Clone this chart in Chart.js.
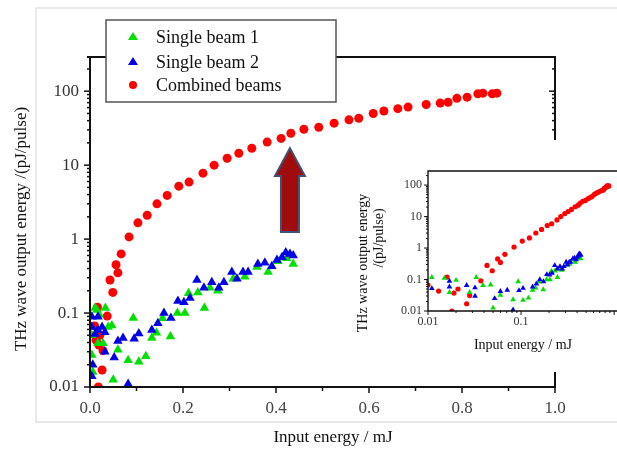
<!DOCTYPE html>
<html>
<head>
<meta charset="utf-8">
<script src="https://cdn.jsdelivr.net/npm/chart.js@4.4.0/dist/chart.umd.min.js"></script>
<style>
  html, body { margin: 0; padding: 0; background: #fff; overflow: hidden; }
  #wrap { position: relative; width: 617px; height: 450px; overflow: hidden; }
  #mainChart { position: absolute; left: 0; top: 0; }
  #insetChart { position: absolute; left: 340px; top: 150px; }
</style>
</head>
<body>
<div id="wrap">
  <canvas id="mainChart" width="617" height="450"></canvas>
  <canvas id="insetChart" width="290" height="210"></canvas>
</div>
<script>
// Single beam 1 (green)
const beam1X = [0.004, 0.004, 0.006, 0.011, 0.015, 0.017, 0.020, 0.028, 0.033, 0.039, 0.047, 0.050, 0.060, 0.082, 0.093, 0.105, 0.120, 0.133, 0.143, 0.156, 0.173, 0.188, 0.204, 0.212, 0.232, 0.246, 0.258, 0.275, 0.308, 0.333, 0.359, 0.383, 0.404, 0.423, 0.437];
const beam1Y = [0.050, 0.027, 0.016, 0.117, 0.110, 0.039, 0.095, 0.039, 0.117, 0.065, 0.068, 0.0125, 0.032, 0.023, 0.086, 0.022, 0.026, 0.046, 0.054, 0.085, 0.048, 0.100, 0.100, 0.185, 0.190, 0.117, 0.220, 0.200, 0.290, 0.310, 0.420, 0.360, 0.500, 0.550, 0.460];

// Single beam 2 (blue)
const beam2X = [0.004, 0.004, 0.004, 0.006, 0.011, 0.017, 0.017, 0.026, 0.032, 0.032, 0.052, 0.060, 0.071, 0.082, 0.095, 0.105, 0.133, 0.146, 0.159, 0.174, 0.189, 0.202, 0.215, 0.230, 0.245, 0.262, 0.277, 0.288, 0.305, 0.316, 0.329, 0.340, 0.361, 0.376, 0.391, 0.402, 0.413, 0.421, 0.430, 0.437];
const beam2Y = [0.089, 0.065, 0.014, 0.020, 0.052, 0.089, 0.059, 0.065, 0.055, 0.030, 0.025, 0.042, 0.046, 0.011, 0.045, 0.053, 0.059, 0.073, 0.100, 0.086, 0.145, 0.140, 0.160, 0.280, 0.220, 0.260, 0.220, 0.260, 0.360, 0.290, 0.360, 0.360, 0.460, 0.480, 0.430, 0.520, 0.570, 0.660, 0.630, 0.600];

// Combined beams (red)
const combX = [0.010, 0.013, 0.016, 0.018, 0.019, 0.021, 0.026, 0.028, 0.037, 0.043, 0.049, 0.056, 0.060, 0.067, 0.084, 0.103, 0.123, 0.144, 0.166, 0.191, 0.213, 0.243, 0.267, 0.295, 0.320, 0.348, 0.381, 0.411, 0.432, 0.460, 0.492, 0.525, 0.557, 0.578, 0.609, 0.632, 0.662, 0.684, 0.723, 0.753, 0.770, 0.789, 0.811, 0.834, 0.845, 0.865, 0.875];
const combY = [0.067, 0.043, 0.120, 0.010, 0.037, 0.050, 0.017, 0.031, 0.091, 0.280, 0.190, 0.450, 0.350, 0.630, 1.07, 1.66, 2.1, 3.0, 3.9, 5.2, 5.9, 7.8, 10, 12.4, 14.5, 16.9, 20.5, 23, 27, 30.6, 32.6, 37, 41, 43, 50, 54, 58, 61, 66, 69, 71, 80, 83, 92, 94, 92, 94];

const xTicks = [0, 0.2, 0.4, 0.6, 0.8, 1.0];
const yTicks = [0.01, 0.1, 1, 10, 100];
const insetXTicks = [0.01, 0.1];

const seriesNames = ["Single beam 1", "Single beam 2", "Combined beams"];
const seriesColors = ["#00e000", "#0000e6", "#ff0000"];

const SERIF = "'Liberation Serif', 'Times New Roman', serif";
const pts = (xs, ys) => xs.map((x, i) => ({ x: x, y: ys[i] }));

function makeDatasets(triR, dotR) {
  return [
    { label: seriesNames[0], data: pts(beam1X, beam1Y), pointStyle: "triangle", pointRadius: triR, backgroundColor: seriesColors[0], borderWidth: 0, order: 2 },
    { label: seriesNames[1], data: pts(beam2X, beam2Y), pointStyle: "triangle", pointRadius: triR, backgroundColor: seriesColors[1], borderWidth: 0, order: 1 },
    { label: seriesNames[2], data: pts(combX, combY), pointStyle: "circle", pointRadius: dotR, backgroundColor: seriesColors[2], borderWidth: 0, order: 3 },
  ];
}

function line(ctx, x1, y1, x2, y2) {
  ctx.beginPath();
  ctx.moveTo(x1, y1);
  ctx.lineTo(x2, y2);
  ctx.stroke();
}

// frame, ticks, legend, arrow and titles of the main plot
const mainDecor = {
  id: "mainDecor",
  afterDraw(chart) {
    const { ctx, chartArea: a, scales: { x, y } } = chart;
    ctx.save();

    // faint panel border of the original figure
    ctx.strokeStyle = "#e2e2e2";
    ctx.lineWidth = 1.5;
    ctx.beginPath();
    ctx.moveTo(617, 8);
    ctx.lineTo(36, 8);
    ctx.lineTo(36, 422);
    ctx.lineTo(617, 422);
    ctx.stroke();

    // axes
    ctx.strokeStyle = "#111";
    ctx.lineWidth = 2;
    ctx.beginPath();
    ctx.moveTo(a.left - 3, a.top);
    ctx.lineTo(a.right, a.top);
    ctx.lineTo(a.right, 140);
    ctx.moveTo(a.right, 372);
    ctx.lineTo(a.right, a.bottom);
    ctx.lineTo(a.left, a.bottom);
    ctx.lineTo(a.left, a.top);
    ctx.stroke();

    // log ticks on y
    ctx.lineWidth = 1.5;
    for (let d = -2; d <= 2; d++) {
      for (let m = 1; m <= 9; m++) {
        const v = m * Math.pow(10, d);
        if (v > y.max) break;
        const py = y.getPixelForValue(v);
        const len = m === 1 ? 6 : 3;
        line(ctx, a.left - len, py, a.left, py);
        if (py < 140) line(ctx, a.right, py, a.right - len, py);
      }
    }
    // ticks on x
    for (let i = 0; i <= 10; i++) {
      const px = x.getPixelForValue(i / 10);
      line(ctx, px, a.bottom, px, a.bottom + (i % 2 === 0 ? 6 : 4));
    }

    // arrow
    const ax = x.getPixelForValue(0.43);
    const tip = y.getPixelForValue(17);
    const base = y.getPixelForValue(1.25);
    ctx.beginPath();
    ctx.moveTo(ax, tip);
    ctx.lineTo(ax + 15, tip + 28);
    ctx.lineTo(ax + 9, tip + 28);
    ctx.lineTo(ax + 9, base);
    ctx.lineTo(ax - 9, base);
    ctx.lineTo(ax - 9, tip + 28);
    ctx.lineTo(ax - 15, tip + 28);
    ctx.closePath();
    ctx.fillStyle = "#a00c0c";
    ctx.fill();
    ctx.strokeStyle = "#3f5178";
    ctx.lineWidth = 2;
    ctx.stroke();

    // legend
    ctx.fillStyle = "#fff";
    ctx.fillRect(106, 20, 230, 82);
    ctx.strokeStyle = "#555";
    ctx.lineWidth = 1.5;
    ctx.strokeRect(106, 20, 230, 82);
    const rows = [37, 62, 85];
    ctx.font = "18px " + SERIF;
    ctx.textBaseline = "middle";
    ctx.textAlign = "left";
    rows.forEach((ry, i) => {
      ctx.fillStyle = seriesColors[i];
      ctx.beginPath();
      if (i < 2) {
        ctx.moveTo(133, ry - 5);
        ctx.lineTo(138, ry + 3);
        ctx.lineTo(128, ry + 3);
        ctx.closePath();
      } else {
        ctx.arc(133, ry, 4, 0, Math.PI * 2);
      }
      ctx.fill();
      ctx.fillStyle = "#111";
      ctx.fillText(seriesNames[i], 156, ry + 1);
    });

    // axis titles
    ctx.fillStyle = "#111";
    ctx.font = "17px " + SERIF;
    ctx.textAlign = "center";
    ctx.fillText("Input energy / mJ", 333, 438);
    ctx.translate(22, 229);
    ctx.rotate(-Math.PI / 2);
    ctx.fillText("THz wave output energy /(pJ/pulse)", 0, 0);
    ctx.restore();
  },
};

new Chart(document.getElementById("mainChart").getContext("2d"), {
  type: "scatter",
  data: { datasets: makeDatasets(5.5, 4.5) },
  options: {
    responsive: false,
    animation: false,
    layout: { padding: { left: 0, top: 57, right: 62, bottom: 0 } },
    plugins: { legend: { display: false }, tooltip: { enabled: false } },
    scales: {
      x: {
        type: "linear",
        min: 0,
        max: 1.0,
        afterBuildTicks: (s) => { s.ticks = xTicks.map((v) => ({ value: v })); },
        afterFit: (s) => { s.height = 63; },
        grid: { display: false, drawTicks: false },
        border: { display: false },
        ticks: {
          padding: 11,
          maxRotation: 0,
          autoSkip: false,
          color: "#444",
          font: { family: SERIF, size: 17 },
          callback: (v) => Number(v).toFixed(1),
        },
      },
      y: {
        type: "logarithmic",
        min: 0.01,
        max: 290,
        afterBuildTicks: (s) => { s.ticks = yTicks.map((v) => ({ value: v })); },
        afterFit: (s) => { s.width = 90; },
        grid: { display: false, drawTicks: false },
        border: { display: false },
        ticks: {
          padding: 11,
          autoSkip: false,
          color: "#333",
          font: { family: SERIF, size: 17 },
          callback: (v) => String(v),
        },
      },
    },
  },
  plugins: [mainDecor],
});

// frame, ticks and titles of the inset
const insetDecor = {
  id: "insetDecor",
  afterDraw(chart) {
    const { ctx, chartArea: a, scales: { x, y } } = chart;
    ctx.save();
    ctx.strokeStyle = "#111";
    ctx.lineWidth = 1.4;
    ctx.beginPath();
    ctx.moveTo(a.right + 5, a.top);
    ctx.lineTo(a.left, a.top);
    ctx.lineTo(a.left, a.bottom);
    ctx.lineTo(a.right + 5, a.bottom);
    ctx.stroke();

    ctx.lineWidth = 1;
    for (let d = -2; d <= 2; d++) {
      for (let m = 1; m <= 9; m++) {
        const v = m * Math.pow(10, d);
        if (v > y.max) break;
        const py = y.getPixelForValue(v);
        line(ctx, a.left - (m === 1 ? 4 : 2), py, a.left, py);
      }
    }
    for (let d = -2; d <= 0; d++) {
      for (let m = 1; m <= 9; m++) {
        const v = m * Math.pow(10, d);
        if (v > x.max) break;
        const px = x.getPixelForValue(v);
        line(ctx, px, a.bottom, px, a.bottom + (m === 1 ? 4 : 2));
      }
    }

    ctx.fillStyle = "#111";
    ctx.font = "14px " + SERIF;
    ctx.textAlign = "center";
    ctx.textBaseline = "middle";
    ctx.fillText("Input energy / mJ", 183, 195);
    ctx.save();
    ctx.translate(23, 113);
    ctx.rotate(-Math.PI / 2);
    ctx.fillText("THz wave output energy", 0, 0);
    ctx.restore();
    ctx.translate(39, 88);
    ctx.rotate(-Math.PI / 2);
    ctx.fillText("/(pJ/pulse)", 0, 0);
    ctx.restore();
  },
};

new Chart(document.getElementById("insetChart").getContext("2d"), {
  type: "scatter",
  data: { datasets: makeDatasets(3.3, 2.6) },
  options: {
    responsive: false,
    animation: false,
    layout: { padding: { left: 0, top: 21, right: 12, bottom: 0 } },
    plugins: { legend: { display: false }, tooltip: { enabled: false } },
    scales: {
      x: {
        type: "logarithmic",
        min: 0.01,
        max: 1.1,
        afterBuildTicks: (s) => { s.ticks = insetXTicks.map((v) => ({ value: v })); },
        afterFit: (s) => { s.height = 49; },
        grid: { display: false, drawTicks: false },
        border: { display: false },
        ticks: {
          padding: 4,
          maxRotation: 0,
          autoSkip: false,
          color: "#333",
          font: { family: SERIF, size: 12 },
          callback: (v) => String(v),
        },
      },
      y: {
        type: "logarithmic",
        min: 0.01,
        max: 280,
        afterBuildTicks: (s) => { s.ticks = yTicks.map((v) => ({ value: v })); },
        afterFit: (s) => { s.width = 88; },
        grid: { display: false, drawTicks: false },
        border: { display: false },
        ticks: {
          padding: 6,
          autoSkip: false,
          color: "#333",
          font: { family: SERIF, size: 12 },
          callback: (v) => String(v),
        },
      },
    },
  },
  plugins: [insetDecor],
});
</script>
</body>
</html>
